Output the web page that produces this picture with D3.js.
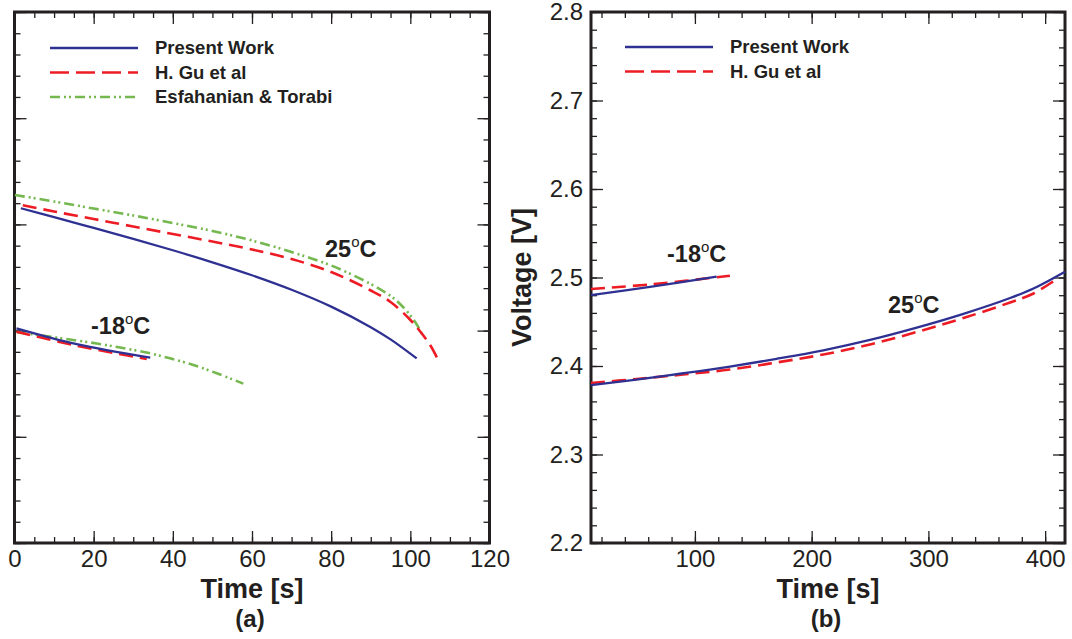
<!DOCTYPE html>
<html>
<head>
<meta charset="utf-8">
<script src="https://cdn.jsdelivr.net/npm/d3@7"></script>
<style>
  body { margin: 0; background: #fff; }
  text { font-family: "Liberation Sans", Arial, sans-serif; fill: #231f20; }
</style>
</head>
<body>
<script>
// ---- panel (a): discharge, 25C and -18C ----
var aPresent25T = [1.6, 10, 20, 30, 40, 50, 60, 70, 80, 90, 95, 101.6];
var aPresent25V = [3.6304, 3.6136, 3.5934, 3.5727, 3.5513, 3.5286, 3.5042, 3.4769, 3.4451, 3.4065, 3.3834, 3.3476];
var aGu25T = [2.1, 10, 20, 30, 40, 50, 60, 70, 80, 90, 95, 99.9, 102.4, 105, 106.7];
var aGu25V = [3.636, 3.6243, 3.6102, 3.596, 3.5819, 3.5678, 3.5527, 3.5348, 3.5104, 3.4755, 3.4539, 3.4209, 3.3992, 3.3729, 3.3497];
var aEsf25T = [0.1, 10, 20, 30, 40, 50, 60, 70, 80, 90, 95, 97.4, 99.9, 101.7, 103.3];
var aEsf25V = [3.6554, 3.6431, 3.6299, 3.6168, 3.6026, 3.5876, 3.5697, 3.548, 3.5226, 3.4878, 3.4652, 3.4501, 3.4294, 3.4105, 3.3885];
var aPresentM18T = [0.5, 15.7, 34.3];
var aPresentM18V = [3.4043, 3.3745, 3.3491];
var aGuM18T = [0.5, 15.7, 33.4];
var aGuM18V = [3.3979, 3.3716, 3.3465];
var aEsfM18T = [0.56, 6.9, 13.6, 20.8, 26.7, 33.4, 39.3, 45.2, 51.1, 57.8];
var aEsfM18V = [3.3968, 3.3908, 3.3836, 3.3757, 3.368, 3.3586, 3.3478, 3.3352, 3.3196, 3.3002];

// ---- panel (b): charge, 25C and -18C ----
var bPresent25T = [11, 50, 90, 130, 170, 210, 250, 290, 330, 370, 390, 417];
var bPresent25V = [2.3785, 2.3847, 2.3918, 2.3994, 2.4081, 2.4177, 2.4294, 2.4433, 2.4589, 2.4768, 2.4876, 2.5066];
var bGu25T = [11, 50, 90, 130, 170, 210, 250, 290, 330, 370, 390, 410];
var bGu25V = [2.3808, 2.3853, 2.3904, 2.396, 2.404, 2.413, 2.4243, 2.4384, 2.4542, 2.4718, 2.4819, 2.4983];
var bPresentM18T = [11, 63, 118.6];
var bPresentM18V = [2.480, 2.4896, 2.501];
var bGuM18T = [11, 63, 130];
var bGuM18V = [2.487, 2.4923, 2.502];

// tick values
var aXTicks = [0, 20, 40, 60, 80, 100, 120];
var bXTicks = [100, 200, 300, 400];
var bYTicks = [2.2, 2.3, 2.4, 2.5, 2.6, 2.7, 2.8];

var BLUE = "#2e3192", RED = "#ed1c24", GREEN = "#74b84f", INK = "#231f20";
var styles = {
    present: { color: BLUE, dash: null, width: 2.3 },
    gu: { color: RED, dash: "14,7", width: 2.6 },
    esf: { color: GREEN, dash: "10,4,2,3,2,4", width: 2.6 }
};

function zip(ts, vs){ return ts.map(function(t, i){ return [t, vs[i]]; }); }
function range(a, b, s){ return d3.range(a, b + s/2, s).map(function(d){ return +d.toFixed(4); }); }

var svg = d3.select("body").append("svg").attr("width", 1072).attr("height", 639);

function drawPanel(p){
    var x = d3.scaleLinear().domain(p.xDomain).range([p.left, p.right]);
    var y = d3.scaleLinear().domain(p.yDomain).range([p.bottom, p.top]);
    var g = svg.append("g");

    // ticks, all four sides pointing inward
    function axisSet(gen, scale, major, minor, tx, ty, labels, pad){
        g.append("g").attr("transform", "translate(" + tx + "," + ty + ")")
            .call(gen(scale).tickValues(minor).tickSize(-6).tickFormat(""));
        g.append("g").attr("transform", "translate(" + tx + "," + ty + ")")
            .call(gen(scale).tickValues(major).tickSize(-12).tickPadding(pad)
                .tickFormat(labels ? p.fmt(labels) : ""));
    }
    axisSet(d3.axisBottom, x, p.xMajor, p.xMinor, 0, p.bottom, "x", 7);
    axisSet(d3.axisTop, x, p.xMajor, p.xMinor, 0, p.top, null, 0);
    axisSet(d3.axisLeft, y, p.yMajor, p.yMinor, p.left, 0, p.yLabels ? "y" : null, 8);
    axisSet(d3.axisRight, y, p.yMajor, p.yMinor, p.right, 0, null, 0);
    g.selectAll(".domain").remove();
    g.selectAll(".tick line").attr("stroke", INK).attr("stroke-width", 1.3);
    g.selectAll(".tick text").style("font-size", "24px").attr("fill", INK);

    g.append("rect").attr("x", p.left).attr("y", p.top)
        .attr("width", p.right - p.left).attr("height", p.bottom - p.top)
        .attr("fill", "none").attr("stroke", INK).attr("stroke-width", 3);

    var line = d3.line().x(function(d){ return x(d[0]); }).y(function(d){ return y(d[1]); })
        .curve(d3.curveCatmullRom.alpha(0.5));
    p.series.forEach(function(s){
        var st = styles[s.kind];
        g.append("path").datum(s.data).attr("d", line)
            .attr("fill", "none").attr("stroke", st.color).attr("stroke-width", st.width)
            .attr("stroke-dasharray", st.dash);
    });

    // temperature labels
    p.notes.forEach(function(n){
        var t = g.append("text").attr("x", n.x).attr("y", n.y)
            .style("font-size", "23.5px").style("font-weight", "bold");
        t.append("tspan").text(n.pre);
        t.append("tspan").attr("dy", -10).style("font-size", "15px").style("font-weight", "normal").text("o");
        t.append("tspan").attr("dy", 10).text("C");
    });

    // legend
    p.legend.forEach(function(l, i){
        var st = styles[l.kind];
        var ly = p.legendY + i * 24.5;
        g.append("line").attr("x1", p.legendX).attr("x2", p.legendX + 88)
            .attr("y1", ly).attr("y2", ly)
            .attr("stroke", st.color).attr("stroke-width", st.width)
            .attr("stroke-dasharray", st.dash ? (l.kind == "gu" ? "19,7" : st.dash) : null);
        g.append("text").attr("x", p.legendX + 105).attr("y", ly + 6)
            .style("font-size", "18.5px").style("font-weight", "bold").text(l.name);
    });

    // axis titles
    var cx = (p.left + p.right) / 2;
    g.append("text").attr("x", cx).attr("y", 598).attr("text-anchor", "middle")
        .style("font-size", "27px").style("font-weight", "bold").text("Time [s]");
    g.append("text").attr("x", cx - 2).attr("y", 627).attr("text-anchor", "middle")
        .style("font-size", "24px").style("font-weight", "bold").text(p.tag);
    if (p.yTitle) {
        g.append("text").attr("transform", "translate(" + p.yTitleX + "," + ((p.top + p.bottom) / 2) + ") rotate(-90)")
            .attr("text-anchor", "middle")
            .style("font-size", "27px").style("font-weight", "bold").text(p.yTitle);
    }
}

drawPanel({
    left: 14.5, right: 489.5, top: 12, bottom: 543,
    xDomain: [0, 120], yDomain: [3.0, 4.0],
    xMajor: aXTicks, xMinor: range(0, 120, 5),
    yMajor: range(3.0, 4.0, 0.2), yMinor: range(3.0, 4.0, 0.04),
    yLabels: false,
    fmt: function(){ return d3.format("d"); },
    series: [
        { kind: "esf", data: zip(aEsf25T, aEsf25V) },
        { kind: "gu", data: zip(aGu25T, aGu25V) },
        { kind: "present", data: zip(aPresent25T, aPresent25V) },
        { kind: "esf", data: zip(aEsfM18T, aEsfM18V) },
        { kind: "gu", data: zip(aGuM18T, aGuM18V) },
        { kind: "present", data: zip(aPresentM18T, aPresentM18V) }
    ],
    notes: [ { x: 325, y: 257, pre: "25" }, { x: 91, y: 334, pre: "-18" } ],
    legend: [
        { kind: "present", name: "Present Work" },
        { kind: "gu", name: "H. Gu et al" },
        { kind: "esf", name: "Esfahanian & Torabi" }
    ],
    legendX: 50, legendY: 48,
    tag: "(a)"
});

drawPanel({
    left: 591, right: 1065, top: 12, bottom: 543,
    xDomain: [11, 417], yDomain: [2.2, 2.8],
    xMajor: bXTicks, xMinor: range(20, 400, 20),
    yMajor: bYTicks, yMinor: range(2.2, 2.8, 0.02),
    yLabels: true,
    fmt: function(k){ return k == "x" ? d3.format("d") : d3.format(".1f"); },
    series: [
        { kind: "gu", data: zip(bGu25T, bGu25V) },
        { kind: "present", data: zip(bPresent25T, bPresent25V) },
        { kind: "gu", data: zip(bGuM18T, bGuM18V) },
        { kind: "present", data: zip(bPresentM18T, bPresentM18V) }
    ],
    notes: [ { x: 667, y: 262, pre: "-18" }, { x: 888, y: 313, pre: "25" } ],
    legend: [
        { kind: "present", name: "Present Work" },
        { kind: "gu", name: "H. Gu et al" }
    ],
    legendX: 625, legendY: 47,
    yTitle: "Voltage [V]", yTitleX: 531,
    tag: "(b)"
});
</script>
</body>
</html>
